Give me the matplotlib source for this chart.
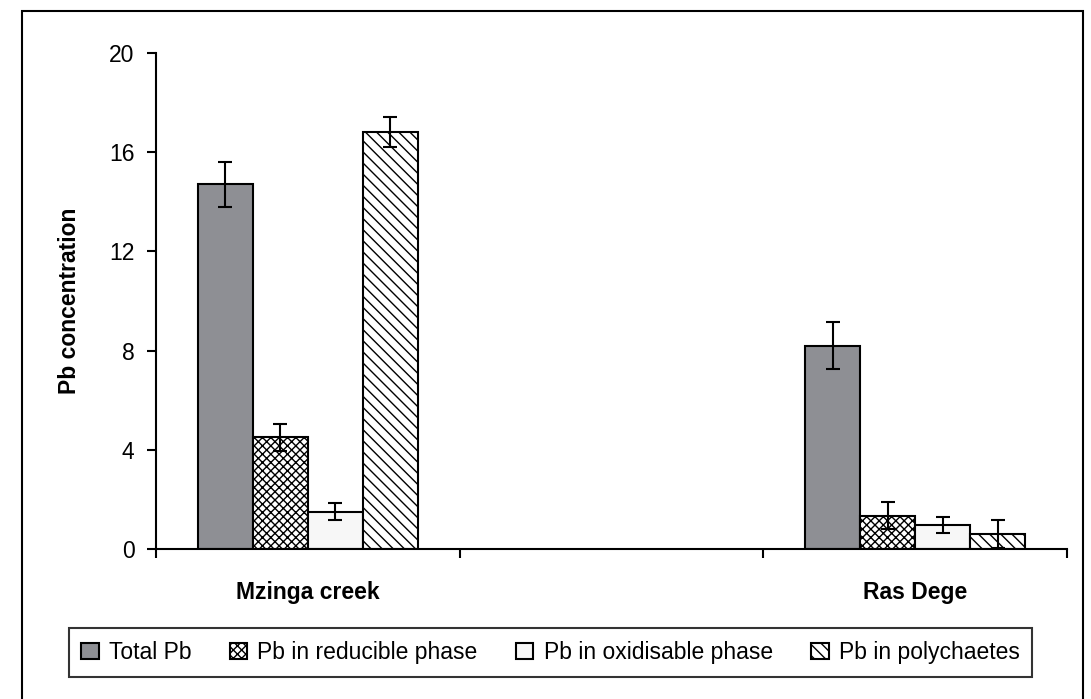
import matplotlib.pyplot as plt
import numpy as np
from matplotlib.patches import Rectangle

plt.rcParams['font.family'] = ['Liberation Sans', 'DejaVu Sans']
plt.rcParams['hatch.linewidth'] = 1.0

sites = ["Mzinga creek", "", "Ras Dege"]
series = ["Total Pb", "Pb in reducible phase", "Pb in oxidisable phase", "Pb in polychaetes"]
total_pb = [14.7, np.nan, 8.2]
reducible = [4.5, np.nan, 1.35]
oxidisable = [1.5, np.nan, 0.95]
polychaetes = [16.8, np.nan, 0.6]
total_err = [0.9, np.nan, 0.95]
reducible_err = [0.55, np.nan, 0.55]
oxidisable_err = [0.35, np.nan, 0.32]
polychaetes_err = [0.6, np.nan, 0.55]
y_ticks = [0, 4, 8, 12, 16, 20]

values = [total_pb, reducible, oxidisable, polychaetes]
errors = [total_err, reducible_err, oxidisable_err, polychaetes_err]
colors = ["#8e8f94", "white", "#f7f7f7", "white"]
hatches = [None, "xxxx", None, "\\\\\\"]

fig = plt.figure(figsize=(10.91, 6.99), dpi=100)
ax = fig.add_axes([0.143, 0.2146, 0.835, 0.7096])

x = np.arange(len(sites))
width = 0.181
for i, (vals, errs) in enumerate(zip(values, errors)):
    pos = x + (i - 1.5) * width
    ax.bar(pos, vals, width, color=colors[i], edgecolor="black", linewidth=1.5,
           hatch=hatches[i], label=series[i], zorder=2)
    ax.errorbar(pos, vals, yerr=errs, fmt="none", ecolor="black", elinewidth=1.5,
                capsize=5, capthick=1.5, zorder=3)

ax.set_xlim(-0.5, len(sites) - 0.5)
ax.set_ylim(0, 20)
ax.set_yticks(y_ticks)
ax.tick_params(axis="y", labelsize=16.5, length=6.5, width=1.5, pad=9)

# tick marks sit between the categories, names sit under the groups
ax.set_xticks(np.arange(len(sites) + 1) - 0.5)
ax.set_xticklabels([])
ax.set_xticks(x, minor=True)
ax.set_xticklabels(sites, minor=True, fontsize=16.5, fontweight="bold")
ax.tick_params(axis="x", which="major", length=6.5, width=1.5)
ax.tick_params(axis="x", which="minor", length=0, pad=23)

for s in ["top", "right"]:
    ax.spines[s].set_visible(False)
for s in ["left", "bottom"]:
    ax.spines[s].set_linewidth(1.5)

ax.set_ylabel("Pb concentration", fontsize=16.5, fontweight="bold", labelpad=20)

leg = fig.legend(loc="lower center", bbox_to_anchor=(0.5046, 0.0157), ncol=4,
                 fontsize=16.5, frameon=True, fancybox=False, edgecolor="black",
                 handlelength=0.75, handleheight=0.75, handletextpad=0.45,
                 columnspacing=1.68, borderpad=0.55)
leg.get_frame().set_linewidth(1.5)

fig.patches.append(Rectangle((0.0202, -0.05), 0.9725, 1.034, transform=fig.transFigure,
                             fill=False, edgecolor="black", linewidth=1.5))

fig.savefig("out.png", dpi=100)
